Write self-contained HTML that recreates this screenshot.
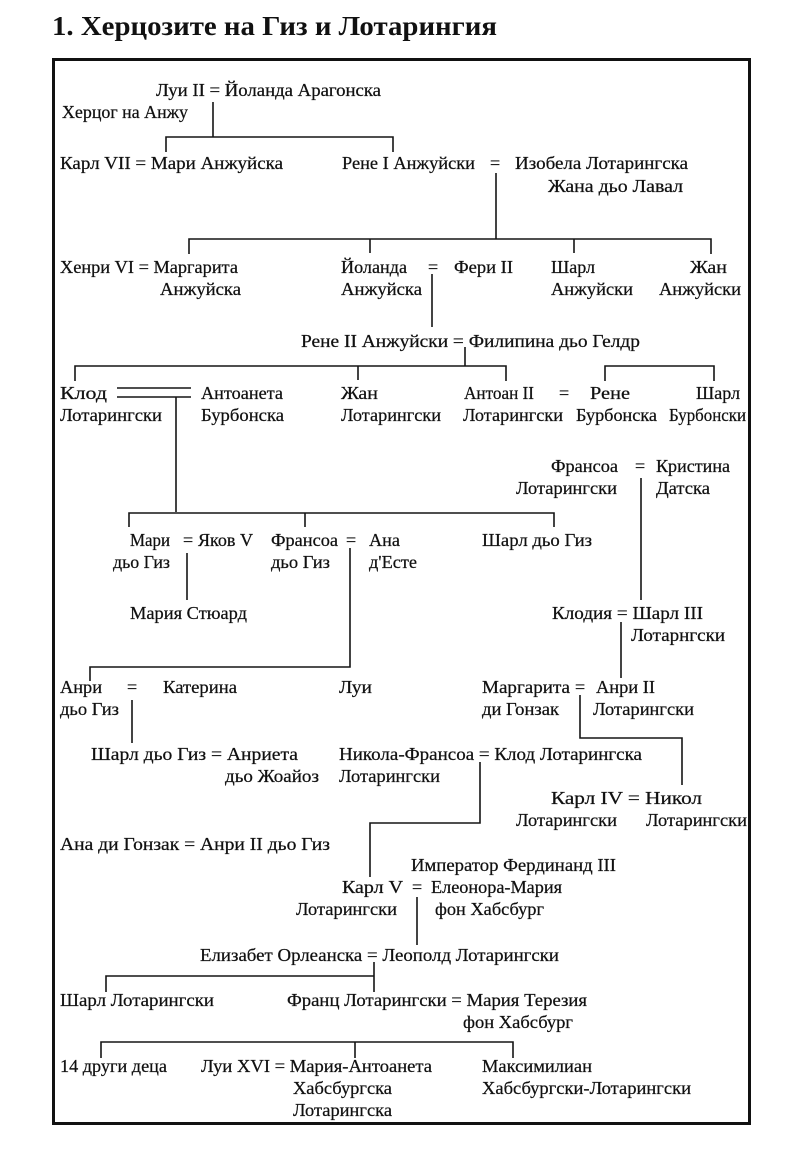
<!DOCTYPE html>
<html><head><meta charset="utf-8"><style>
html,body{margin:0;padding:0;background:#fff;}
svg{display:block;}
text{font-family:"Liberation Serif",serif;font-size:18px;fill:#111;stroke:#111;stroke-width:0.25;}
.t{font-weight:bold;font-size:27px;stroke-width:0;}
</style></head><body>
<svg width="794" height="1172" viewBox="0 0 794 1172" xmlns="http://www.w3.org/2000/svg">
<text class="t" x="52" y="35" textLength="445" lengthAdjust="spacingAndGlyphs">1. Херцозите на Гиз и Лотарингия</text>
<rect x="53.5" y="59.5" width="696" height="1064" fill="none" stroke="#111" stroke-width="3"/>
<g stroke="#151515" stroke-width="1.6" fill="none">
<path d="M213 102V137M166 152V137H393V152"/>
<path d="M496 173V239M189 254V239H711V254M370 239V253M574 239V253"/>
<path d="M432 274V327"/>
<path d="M465 347V366M75 381V366H506V381M358 366V380M605 381V366H714V381"/>
<path d="M117 388H191M117 397H191M176 397V512"/>
<path d="M641 478V600"/>
<path d="M129 527V513H554V527M305 513V527"/>
<path d="M187 553V600"/>
<path d="M350 548V667H90V681"/>
<path d="M621 622V678"/>
<path d="M132 700V743"/>
<path d="M580 695V738H682V785"/>
<path d="M480 762V823H370V877"/>
<path d="M417 897V945"/>
<path d="M374 962V992M106 992V976H374"/>
<path d="M101 1058V1042H513V1058M355 1042V1058"/>
</g>
<g>
<text x="156" y="96" textLength="225" lengthAdjust="spacingAndGlyphs">Луи II = Йоланда Арагонска</text>
<text x="62" y="118" textLength="126" lengthAdjust="spacingAndGlyphs">Херцог на Анжу</text>
<text x="60" y="169" textLength="223" lengthAdjust="spacingAndGlyphs">Карл VII = Мари Анжуйска</text>
<text x="342" y="169" textLength="133" lengthAdjust="spacingAndGlyphs">Рене I Анжуйски</text>
<text x="490" y="169">=</text>
<text x="515" y="169" textLength="173" lengthAdjust="spacingAndGlyphs">Изобела Лотарингска</text>
<text x="548" y="192" textLength="135" lengthAdjust="spacingAndGlyphs">Жана дьо Лавал</text>
<text x="60" y="273" textLength="178" lengthAdjust="spacingAndGlyphs">Хенри VI = Маргарита</text>
<text x="160" y="295" textLength="81" lengthAdjust="spacingAndGlyphs">Анжуйска</text>
<text x="341" y="273" textLength="66" lengthAdjust="spacingAndGlyphs">Йоланда</text>
<text x="428" y="273">=</text>
<text x="454" y="273" textLength="59" lengthAdjust="spacingAndGlyphs">Фери II</text>
<text x="341" y="295" textLength="81" lengthAdjust="spacingAndGlyphs">Анжуйска</text>
<text x="551" y="273" textLength="44" lengthAdjust="spacingAndGlyphs">Шарл</text>
<text x="551" y="295" textLength="82" lengthAdjust="spacingAndGlyphs">Анжуйски</text>
<text x="690" y="273" textLength="37" lengthAdjust="spacingAndGlyphs">Жан</text>
<text x="659" y="295" textLength="82" lengthAdjust="spacingAndGlyphs">Анжуйски</text>
<text x="301" y="347" textLength="339" lengthAdjust="spacingAndGlyphs">Рене II Анжуйски  =  Филипина дьо Гелдр</text>
<text x="60" y="399" textLength="47" lengthAdjust="spacingAndGlyphs">Клод</text>
<text x="60" y="421" textLength="102" lengthAdjust="spacingAndGlyphs">Лотарингски</text>
<text x="201" y="399" textLength="82" lengthAdjust="spacingAndGlyphs">Антоанета</text>
<text x="201" y="421" textLength="83" lengthAdjust="spacingAndGlyphs">Бурбонска</text>
<text x="341" y="399" textLength="37" lengthAdjust="spacingAndGlyphs">Жан</text>
<text x="341" y="421" textLength="100" lengthAdjust="spacingAndGlyphs">Лотарингски</text>
<text x="464" y="399" textLength="70" lengthAdjust="spacingAndGlyphs">Антоан II</text>
<text x="559" y="399">=</text>
<text x="590" y="399" textLength="40" lengthAdjust="spacingAndGlyphs">Рене</text>
<text x="463" y="421" textLength="100" lengthAdjust="spacingAndGlyphs">Лотарингски</text>
<text x="576" y="421" textLength="81" lengthAdjust="spacingAndGlyphs">Бурбонска</text>
<text x="696" y="399" textLength="44" lengthAdjust="spacingAndGlyphs">Шарл</text>
<text x="669" y="421" textLength="77" lengthAdjust="spacingAndGlyphs">Бурбонски</text>
<text x="551" y="472" textLength="67" lengthAdjust="spacingAndGlyphs">Франсоа</text>
<text x="635" y="472">=</text>
<text x="656" y="472" textLength="74" lengthAdjust="spacingAndGlyphs">Кристина</text>
<text x="516" y="494" textLength="101" lengthAdjust="spacingAndGlyphs">Лотарингски</text>
<text x="656" y="494" textLength="54" lengthAdjust="spacingAndGlyphs">Датска</text>
<text x="130" y="546" textLength="40" lengthAdjust="spacingAndGlyphs">Мари</text>
<text x="183" y="546">=</text>
<text x="198" y="546" textLength="55" lengthAdjust="spacingAndGlyphs">Яков V</text>
<text x="113" y="568" textLength="57" lengthAdjust="spacingAndGlyphs">дьо Гиз</text>
<text x="271" y="546" textLength="67" lengthAdjust="spacingAndGlyphs">Франсоа</text>
<text x="346" y="546">=</text>
<text x="369" y="546" textLength="31" lengthAdjust="spacingAndGlyphs">Ана</text>
<text x="271" y="568" textLength="59" lengthAdjust="spacingAndGlyphs">дьо Гиз</text>
<text x="369" y="568" textLength="48" lengthAdjust="spacingAndGlyphs">д'Есте</text>
<text x="482" y="546" textLength="110" lengthAdjust="spacingAndGlyphs">Шарл дьо Гиз</text>
<text x="130" y="619" textLength="117" lengthAdjust="spacingAndGlyphs">Мария Стюард</text>
<text x="552" y="619" textLength="151" lengthAdjust="spacingAndGlyphs">Клодия = Шарл III</text>
<text x="631" y="641" textLength="94" lengthAdjust="spacingAndGlyphs">Лотарнгски</text>
<text x="60" y="693" textLength="42" lengthAdjust="spacingAndGlyphs">Анри</text>
<text x="127" y="693">=</text>
<text x="163" y="693" textLength="74" lengthAdjust="spacingAndGlyphs">Катерина</text>
<text x="60" y="715" textLength="59" lengthAdjust="spacingAndGlyphs">дьо Гиз</text>
<text x="339" y="693" textLength="33" lengthAdjust="spacingAndGlyphs">Луи</text>
<text x="482" y="693" textLength="88" lengthAdjust="spacingAndGlyphs">Маргарита</text>
<text x="575" y="693">=</text>
<text x="596" y="693" textLength="59" lengthAdjust="spacingAndGlyphs">Анри II</text>
<text x="482" y="715" textLength="77" lengthAdjust="spacingAndGlyphs">ди Гонзак</text>
<text x="593" y="715" textLength="101" lengthAdjust="spacingAndGlyphs">Лотарингски</text>
<text x="91" y="760" textLength="207" lengthAdjust="spacingAndGlyphs">Шарл дьо Гиз  =  Анриета</text>
<text x="225" y="782" textLength="94" lengthAdjust="spacingAndGlyphs">дьо Жоайоз</text>
<text x="339" y="760" textLength="303" lengthAdjust="spacingAndGlyphs">Никола-Франсоа = Клод Лотарингска</text>
<text x="339" y="782" textLength="101" lengthAdjust="spacingAndGlyphs">Лотарингски</text>
<text x="551" y="804" textLength="151" lengthAdjust="spacingAndGlyphs">Карл IV  =   Никол</text>
<text x="516" y="826" textLength="101" lengthAdjust="spacingAndGlyphs">Лотарингски</text>
<text x="646" y="826" textLength="101" lengthAdjust="spacingAndGlyphs">Лотарингски</text>
<text x="60" y="850" textLength="270" lengthAdjust="spacingAndGlyphs">Ана ди Гонзак  =  Анри II дьо Гиз</text>
<text x="411" y="871" textLength="205" lengthAdjust="spacingAndGlyphs">Император Фердинанд III</text>
<text x="342" y="893" textLength="61" lengthAdjust="spacingAndGlyphs">Карл V</text>
<text x="412" y="893">=</text>
<text x="431" y="893" textLength="131" lengthAdjust="spacingAndGlyphs">Елеонора-Мария</text>
<text x="296" y="915" textLength="101" lengthAdjust="spacingAndGlyphs">Лотарингски</text>
<text x="435" y="915" textLength="109" lengthAdjust="spacingAndGlyphs">фон Хабсбург</text>
<text x="200" y="961" textLength="359" lengthAdjust="spacingAndGlyphs">Елизабет Орлеанска = Леополд Лотарингски</text>
<text x="60" y="1006" textLength="154" lengthAdjust="spacingAndGlyphs">Шарл Лотарингски</text>
<text x="287" y="1006" textLength="300" lengthAdjust="spacingAndGlyphs">Франц Лотарингски = Мария Терезия</text>
<text x="463" y="1028" textLength="110" lengthAdjust="spacingAndGlyphs">фон Хабсбург</text>
<text x="60" y="1072" textLength="107" lengthAdjust="spacingAndGlyphs">14 други деца</text>
<text x="201" y="1072" textLength="231" lengthAdjust="spacingAndGlyphs">Луи XVI = Мария-Антоанета</text>
<text x="293" y="1094" textLength="99" lengthAdjust="spacingAndGlyphs">Хабсбургска</text>
<text x="293" y="1116" textLength="99" lengthAdjust="spacingAndGlyphs">Лотарингска</text>
<text x="482" y="1072" textLength="110" lengthAdjust="spacingAndGlyphs">Максимилиан</text>
<text x="482" y="1094" textLength="209" lengthAdjust="spacingAndGlyphs">Хабсбургски-Лотарингски</text>
</g>
</svg>
</body></html>
